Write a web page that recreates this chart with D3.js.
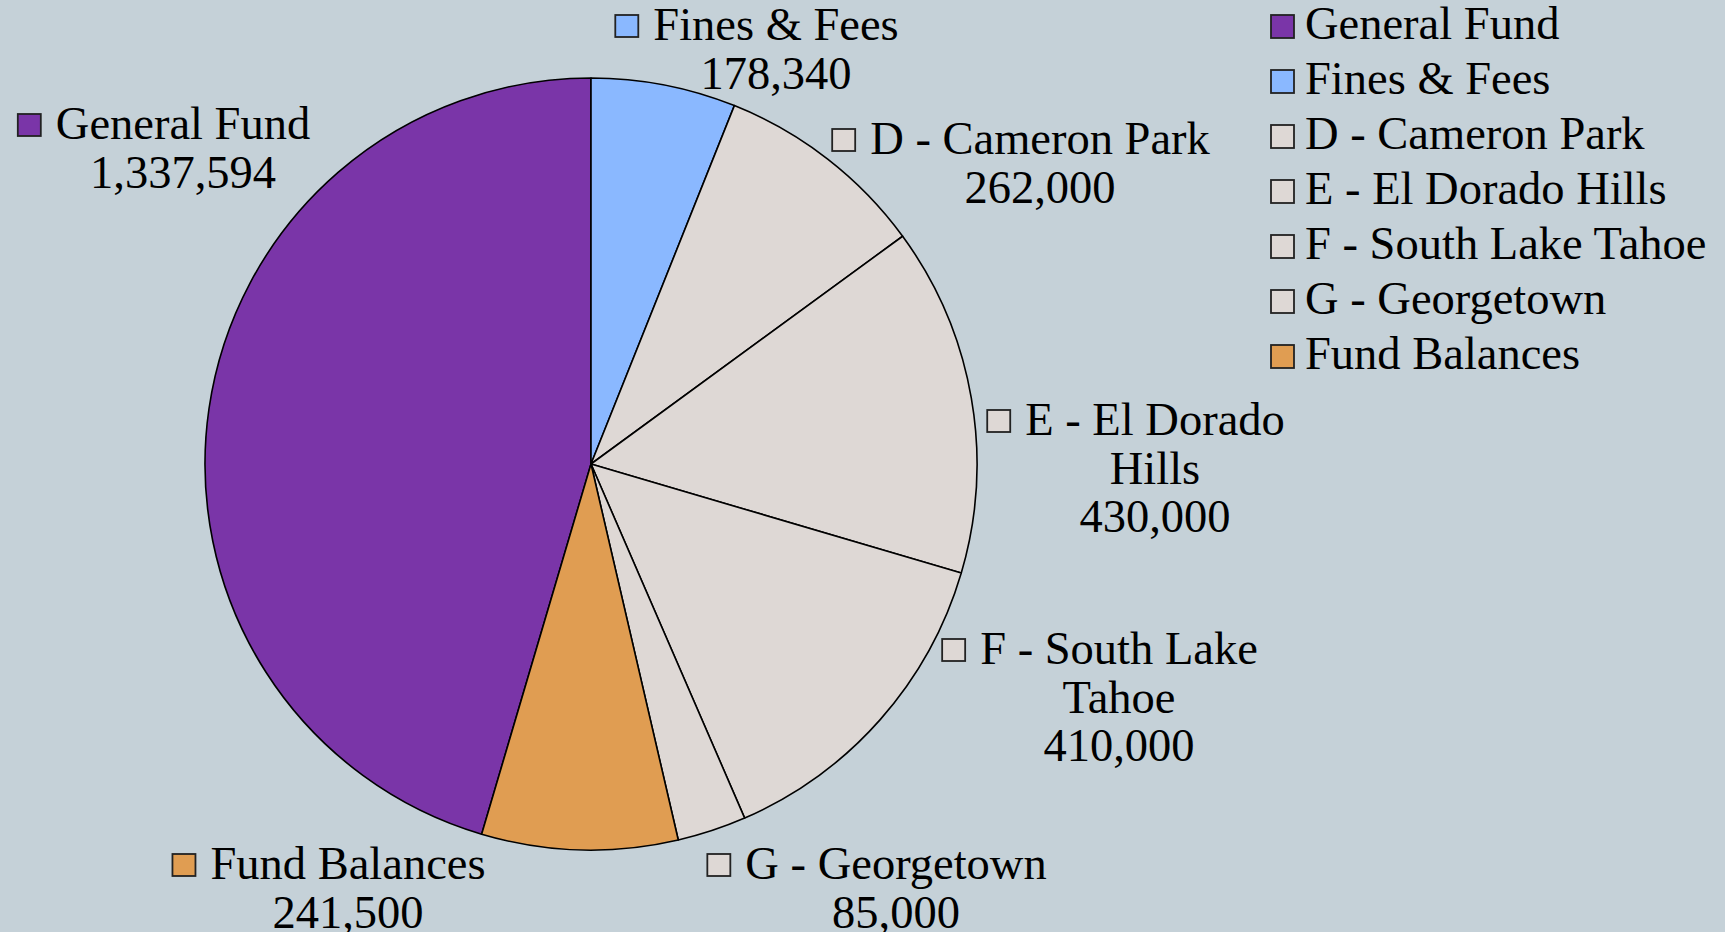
<!DOCTYPE html>
<html>
<head>
<meta charset="utf-8">
<script src="https://cdn.jsdelivr.net/npm/d3@7"></script>
<style>
  html, body { margin: 0; padding: 0; background: #C5D1D8; overflow: hidden; }
  svg { display: block; }
  text { font-family: "Liberation Serif", "Times New Roman", serif; fill: #000; }
</style>
</head>
<body>
<svg id="chart" width="1725" height="932"></svg>
<script>
// ---- data ----
const categories = ["General Fund", "Fines & Fees", "D - Cameron Park", "E - El Dorado Hills",
                    "F - South Lake Tahoe", "G - Georgetown", "Fund Balances"];
const values = [1337594, 178340, 262000, 430000, 410000, 85000, 241500];
const colors = ["#7A35A8", "#8AB8FF", "#DED8D5", "#DED8D5", "#DED8D5", "#DED8D5", "#E09D52"];
// label text as wrapped next to the slices
const labelLines = [["General Fund"], ["Fines & Fees"], ["D - Cameron Park"], ["E - El Dorado", "Hills"],
                    ["F - South Lake", "Tahoe"], ["G - Georgetown"], ["Fund Balances"]];

// ---- layout (positions / styles) ----
const W = 1725, H = 932;
const cx = 591, cy = 464, R = 386;
const fontSize = 46.5, lineH = 48.5;
// label anchors: centre x of text block, first baseline y
const labelLayout = [
  {x: 183, y: 139},
  {x: 776, y: 40},
  {x: 1040, y: 154},
  {x: 1155, y: 435},
  {x: 1119, y: 664},
  {x: 896, y: 879},
  {x: 348, y: 879}
];

const svg = d3.select("#chart");
svg.append("rect").attr("width", W).attr("height", H).attr("fill", "#C5D1D8");

const total = d3.sum(values);
const offset = values[0] / total * 2 * Math.PI;
const pie = d3.pie().sort(null).value(d => d)
  .startAngle(-offset).endAngle(2 * Math.PI - offset);
const arcs = pie(values);
const arc = d3.arc().innerRadius(0).outerRadius(R);

const g = svg.append("g").attr("transform", `translate(${cx},${cy})`);
g.selectAll("path").data(arcs).join("path")
  .attr("d", arc)
  .attr("fill", (d, i) => colors[i])
  .attr("stroke", "#000")
  .attr("stroke-width", 1.6)
  .attr("stroke-linejoin", "round");

const fmt = d3.format(",");

// data labels
arcs.forEach((a, i) => {
  const L = labelLayout[i];
  const lg = svg.append("g").attr("transform", `translate(${L.x},${L.y})`);
  const lines = labelLines[i].concat([fmt(values[i])]);
  const texts = lines.map((t, k) => lg.append("text")
    .attr("x", 0).attr("y", k * lineH)
    .attr("text-anchor", "middle")
    .attr("font-size", fontSize)
    .text(t));
  const w0 = texts[0].node().getComputedTextLength();
  lg.append("rect")
    .attr("x", -w0 / 2 - 15 - 23).attr("y", -25)
    .attr("width", 23).attr("height", 22)
    .attr("fill", colors[i]).attr("stroke", "#222").attr("stroke-width", 1.8);
});

// legend
const legX = 1271, legY0 = 39, legStep = 55;
const leg = svg.append("g");
categories.forEach((c, i) => {
  const y = legY0 + i * legStep;
  leg.append("rect")
    .attr("x", legX).attr("y", y - 24).attr("width", 23).attr("height", 23)
    .attr("fill", colors[i]).attr("stroke", "#222").attr("stroke-width", 1.8);
  leg.append("text")
    .attr("x", 1305).attr("y", y)
    .attr("font-size", fontSize)
    .text(c);
});
</script>
</body>
</html>
